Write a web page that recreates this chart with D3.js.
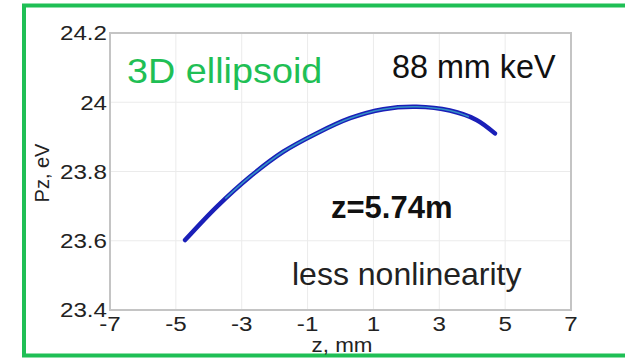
<!DOCTYPE html>
<html><head><meta charset="utf-8">
<script src="https://cdn.jsdelivr.net/npm/d3@7"></script>
<style>
html,body{margin:0;padding:0;background:#fff;}
svg{display:block;font-family:"Liberation Sans",Arial,sans-serif;}
</style></head>
<body>
<svg id="chart" width="625" height="358"></svg>
<script>
// Data
const zValues  = [-4.72, -3.76, -2.75, -1.74, -0.73, 0.29, 1.30, 2.31, 3.32, 4.13, 4.69];
const pzValues = [23.602, 23.698, 23.785, 23.857, 23.910, 23.954, 23.980, 23.987, 23.976, 23.949, 23.910];
const innerZ  = [-3.5, -2.75, -1.74, -0.73, 0.29, 1.30, 2.31, 3.32, 3.9];
const innerPz = [23.722, 23.785, 23.857, 23.910, 23.954, 23.980, 23.987, 23.976, 23.958];
const xTicks = [-7, -5, -3, -1, 1, 3, 5, 7];
const yTicks = [23.4, 23.6, 23.8, 24, 24.2];
const xTickLabels = ["-7", "-5", "-3", "-1", "1", "3", "5", "7"];
const yTickLabels = ["23.4", "23.6", "23.8", "24", "24.2"];
const xLabel = "z, mm";
const yLabel = "Pz, eV";
const titleGreen = "3D ellipsoid";
const noteEmit = "88 mm keV";
const notePos = "z=5.74m";
const noteNL = "less nonlinearity";

const svg = d3.select("#chart");
const L = 110, R = 571, T = 33, B = 310;
const x = d3.scaleLinear().domain([-7, 7]).range([L, R]);
const y = d3.scaleLinear().domain([23.4, 24.2]).range([B, T]);

function addText(tx, ty, str, size, sx, opts = {}) {
  return svg.append("text")
    .attr("transform", `translate(${tx},${ty}) scale(${sx},1)`)
    .attr("text-anchor", opts.anchor || "start")
    .attr("dy", opts.dy || 0)
    .attr("font-size", size)
    .attr("font-weight", opts.weight || "normal")
    .attr("fill", opts.fill || "#222")
    .text(str);
}

// outer green frame (right side extends beyond view)
svg.append("path")
  .attr("d", `M640,5.5 H24 V355.5 H640`)
  .attr("fill", "none").attr("stroke", "#1fbf55").attr("stroke-width", 4);

// grid
svg.append("g").selectAll("line").data(xTicks.slice(1, -1)).join("line")
  .attr("x1", d => x(d)).attr("x2", d => x(d)).attr("y1", T).attr("y2", B)
  .attr("stroke", "#ebebeb").attr("stroke-width", 1);
svg.append("g").selectAll("line").data(yTicks.slice(1, -1)).join("line")
  .attr("y1", d => y(d)).attr("y2", d => y(d)).attr("x1", L).attr("x2", R)
  .attr("stroke", "#ebebeb").attr("stroke-width", 1);

// plot frame
svg.append("rect").attr("x", L).attr("y", T).attr("width", R - L).attr("height", B - T)
  .attr("fill", "none").attr("stroke", "#c4c4c4").attr("stroke-width", 2);

// tick labels
xTicks.forEach((d, i) => addText(x(d), 331, xTickLabels[i], 21, 1.15, {anchor: "middle"}));
yTicks.forEach((d, i) => addText(L - 3, y(d), yTickLabels[i], 21, 1.15, {anchor: "end", dy: "0.35em"}));

// axis titles
addText(342, 352, xLabel, 20, 1.12, {anchor: "middle"});
svg.append("text").attr("transform", "translate(49,173) rotate(-90)").attr("text-anchor", "middle")
  .attr("font-size", 20).attr("fill", "#222").text(yLabel);

// curve
const line = d3.line().x(d => x(d[0])).y(d => y(d[1])).curve(d3.curveCatmullRom);
const main = zValues.map((z, i) => [z, pzValues[i]]);
const inner = innerZ.map((z, i) => [z, innerPz[i]]);
svg.append("path").attr("d", line(main)).attr("fill", "none")
  .attr("stroke", "#1a1fb8").attr("stroke-width", 4.5).attr("stroke-linecap", "round");
svg.append("path").attr("d", line(inner)).attr("fill", "none")
  .attr("stroke", "#3aa6c8").attr("stroke-width", 1.6).attr("stroke-opacity", 0.85);

// annotations
addText(127, 83, titleGreen, 35, 1.08, {fill: "#1fbf55"});
addText(392, 78, noteEmit, 33, 0.98, {fill: "#111"});
addText(331, 218, notePos, 31, 1.0, {fill: "#111", weight: "bold"});
addText(292, 285, noteNL, 32, 1.0, {fill: "#222"});
</script>
</body></html>
